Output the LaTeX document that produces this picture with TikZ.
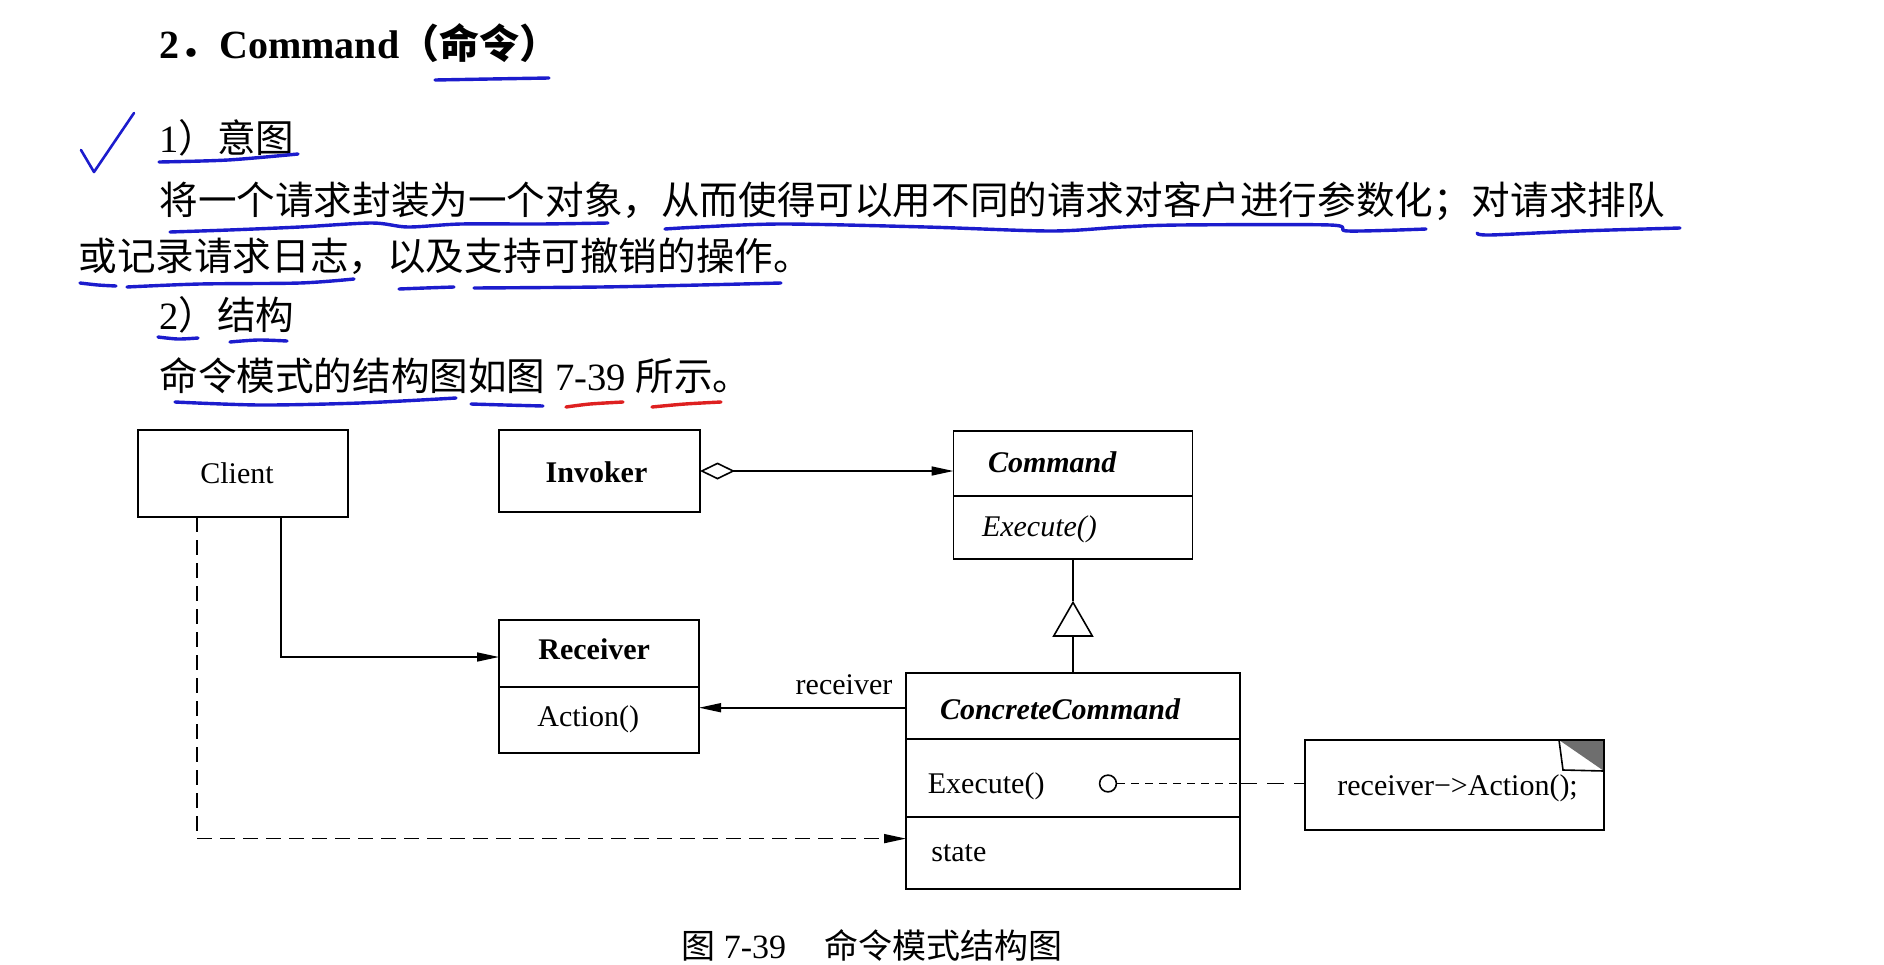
\documentclass[tikz,border=0pt]{standalone}
\usepackage{fontspec}
\setmainfont{Liberation Serif}
\newfontfamily\cjk{Noto Sans CJK SC}
\usetikzlibrary{arrows.meta,calc}
\definecolor{bluepen}{RGB}{28,28,205}
\definecolor{redpen}{RGB}{222,32,32}
\definecolor{foldgray}{RGB}{110,110,110}
\begin{document}
\begin{tikzpicture}[x=0.5pt,y=-0.5pt,
  box/.style={draw,line width=0.8pt,inner sep=0,outer sep=0},
  lbl/.style={anchor=base west,inner sep=0,font=\fontsize{15pt}{18pt}\selectfont},
  body/.style={anchor=base west,inner sep=0,font=\fontsize{19.3pt}{23pt}\selectfont},
  arr/.style={line width=0.8pt,-{Triangle[length=11pt,width=4.5pt]}},
  pen/.style={bluepen,line width=1.7pt,line cap=round,line join=round},
  rpen/.style={redpen,line width=1.7pt,line cap=round,line join=round}]
\useasboundingbox (0,0) rectangle (1884,964);
\fill[white] (0,0) rectangle (1884,964);

% ---------- text ----------
\node[anchor=base west,inner sep=0,font=\fontsize{20pt}{24pt}\selectfont\bfseries] (title) at (159,58) {2{\cjk ．}Command{\cjk （命令）}};
\node[body] (i1) at (159,152.5) {1{\cjk ）意图}};
\node[body] (l1) at (159,214) {\cjk 将一个请求封装为一个对象，从而使得可以用不同的请求对客户进行参数化；对请求排队};
\node[body] (l2) at (78,270) {\cjk 或记录请求日志，以及支持可撤销的操作。};
\node[body] (s2) at (159,329) {2{\cjk ）结构}};
\node[body] (l3) at (159,390.5) {{\cjk 命令模式的结构图如图} 7-39 {\cjk 所示。}};

% ---------- pen marks ----------
\draw[pen,line width=1.3pt] (81,150) -- (94,172) -- (134,113);
\draw[pen] plot[smooth] coordinates {(435,80) (490,79) (549,78)};
\draw[pen] plot[smooth] coordinates {(159,162) (228,160) (298,154)};
\draw[pen] plot[smooth] coordinates {(170,232) (229,230) (300,227) (372,223) (408,227) (461,224) (540,224) (608,223)};
\draw[pen] plot[smooth] coordinates {(665,229) (700,227) (783,224) (926,227) (1051,231) (1122,227) (1180,225) (1330,225) (1348,231) (1426,229)};
\draw[pen] plot[smooth] coordinates {(1477,233) (1490,235) (1580,231) (1680,228)};
\draw[pen] plot[smooth] coordinates {(80,283) (98,285) (116,286)};
\draw[pen] plot[smooth] coordinates {(127,287) (200,284) (300,283) (354,279)};
\draw[pen] plot[smooth] coordinates {(399,289) (425,288) (454,287)};
\draw[pen] plot[smooth] coordinates {(474,288) (600,287) (700,285) (781,283)};
\draw[pen] plot[smooth] coordinates {(158,337) (178,339) (198,338)};
\draw[pen] plot[smooth] coordinates {(230,342) (258,340) (287,341)};
\draw[pen] plot[smooth] coordinates {(175,402) (260,405) (360,403) (456,398)};
\draw[pen] plot[smooth] coordinates {(471,404) (505,405) (543,406)};
\draw[rpen] plot[smooth] coordinates {(566,407) (590,404) (623,402)};
\draw[rpen] plot[smooth] coordinates {(652,407) (685,404) (721,402)};

% ---------- class boxes ----------
\node[box,minimum width=105pt,minimum height=43.5pt] (client) at (243,473.5) {};
\node[box,minimum width=100.5pt,minimum height=41pt] (inv) at (599.5,471) {};
\node[box,minimum width=119.5pt,minimum height=64pt] (cmd) at (1073,495) {};
\node[box,minimum width=100pt,minimum height=66.5pt] (rcv) at (599,686.5) {};
\node[box,minimum width=167pt,minimum height=108pt] (cc) at (1073,781) {};
\coordinate (cmdDiv) at (0,496);
\coordinate (rcvDiv) at (0,687);
\coordinate (ccDivA) at (0,739);
\coordinate (ccDivB) at (0,817);
\draw[line width=0.8pt] (cmd.west |- cmdDiv) -- (cmd.east |- cmdDiv);
\draw[line width=0.8pt] (rcv.west |- rcvDiv) -- (rcv.east |- rcvDiv);
\draw[line width=0.8pt] (cc.west |- ccDivA) -- (cc.east |- ccDivA);
\draw[line width=0.8pt] (cc.west |- ccDivB) -- (cc.east |- ccDivB);

% note
\node[box,minimum width=149.5pt,minimum height=45pt] (note) at (1454.5,785) {};
\fill[foldgray] ($(note.north east)+(-45,0)$) -- (note.north east) -- ($(note.north east)+(0,31)$) -- cycle;
\draw[line width=0.8pt] ($(note.north east)+(-45,0)$) -- ($(note.north east)+(-41,30)$) -- ($(note.north east)+(0,31)$);
\draw[line width=0.8pt] (note.south west) rectangle (note.north east);

% labels
\node[lbl,anchor=base] (clientT) at (237,483) {Client};
\node[lbl,anchor=base] (invT) at (596.5,482) {\bfseries Invoker};
\node[lbl] (cmdT) at (987.6,472.6) {\bfseries\itshape Command};
\node[lbl] (cmdE) at (981.6,536) {\itshape Execute()};
\node[lbl] (rcvT) at (538,659) {\bfseries Receiver};
\node[lbl] (rcvA) at (537,726) {Action()};
\node[lbl] (ccT) at (939.6,719) {\bfseries\itshape ConcreteCommand};
\node[lbl] (ccE) at (927.5,793) {Execute()};
\node[lbl] (ccS) at (931,861) {state};
\node[lbl] (noteT) at (1337,795) {receiver−>Action();};
\node[lbl,anchor=base] (recvT) at (844,694) {receiver};

% ---------- connectors ----------
\draw[line width=0.8pt,{Diamond[open,length=17.5pt,width=8.5pt]}-{Triangle[length=11pt,width=4.5pt]}] (inv.east) -- (inv.east -| cmd.west);
\coordinate (cr) at (281,657);
\draw[arr] (client.south -| cr) |- (rcv.west |- cr);
\coordinate (cd) at (197,838.6);
\draw[arr,dash pattern=on 7.5pt off 4pt] (client.south -| cd) |- (cc.west |- cd);
\coordinate (ra) at (0,707.7);
\draw[arr] (cc.west |- ra) -- (rcv.east |- ra);
\coordinate (apex) at (1073,600.8);
\draw[line width=0.8pt,-{Triangle[open,length=18pt,width=20.5pt]}] (cc.north) -- (apex);
\draw[line width=0.8pt] (apex) -- (cmd.south);
\node[circle,draw,line width=0.8pt,minimum size=8.4pt,inner sep=0,fill=white] (dot) at (1108,783.5) {};
\draw[line width=0.8pt,dash pattern=on 4pt off 3pt] (dot.east) -- (cc.east |- dot.east);
\draw[line width=0.8pt,dash pattern=on 8.5pt off 5pt] (cc.east |- dot.east) -- (note.west |- dot.east);

% caption
\node[anchor=base west,inner sep=0,font=\fontsize{17pt}{20pt}\selectfont] (cap) at (681,958) {{\cjk 图} 7-39\hspace{19pt}{\cjk 命令模式结构图}};
\end{tikzpicture}
\end{document}
